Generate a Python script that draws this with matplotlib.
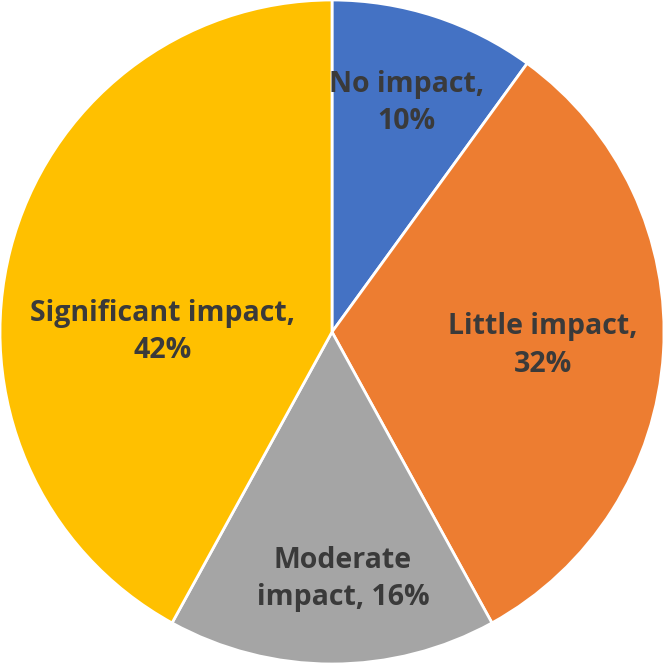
import numpy as np
import matplotlib.pyplot as plt

labels = ['No impact,\n10%', 'Little impact,\n32%', 'Moderate\nimpact, 16%', 'Significant impact,\n42%']
values = [10, 32, 16, 42]
colors = ['#4472C4', '#ED7D31', '#A5A5A5', '#FFC000']

fig = plt.figure(figsize=(6.66, 6.64), dpi=100)
ax = fig.add_axes([0, 0, 1, 1])

wedges, _ = ax.pie(values, colors=colors, startangle=90, counterclock=False,
                   wedgeprops=dict(edgecolor='white', linewidth=2), radius=1)

# label placement per slice (radial distance, extra offset)
dist = [0.725, 0.636, 0.744, 0.51]
nudge = [(0, 0), (0, 0), (0.033, 0), (-0.016, -0.127)]
for w, lab, d, (nx, ny) in zip(wedges, labels, dist, nudge):
    ang = np.deg2rad((w.theta1 + w.theta2) / 2)
    x = d * np.cos(ang) + nx
    y = d * np.sin(ang) + ny
    ax.text(x, y, lab, ha='center', va='center', fontsize=20.5, fontweight='bold',
            color='#3a3a3a', family='Open Sans', linespacing=1.4)

ax.set_xlim(-1.0, 1.006)
ax.set_ylim(-1.0, 1.0)
ax.set_aspect('equal')
ax.axis('off')
fig.savefig('out.png', dpi=100)
